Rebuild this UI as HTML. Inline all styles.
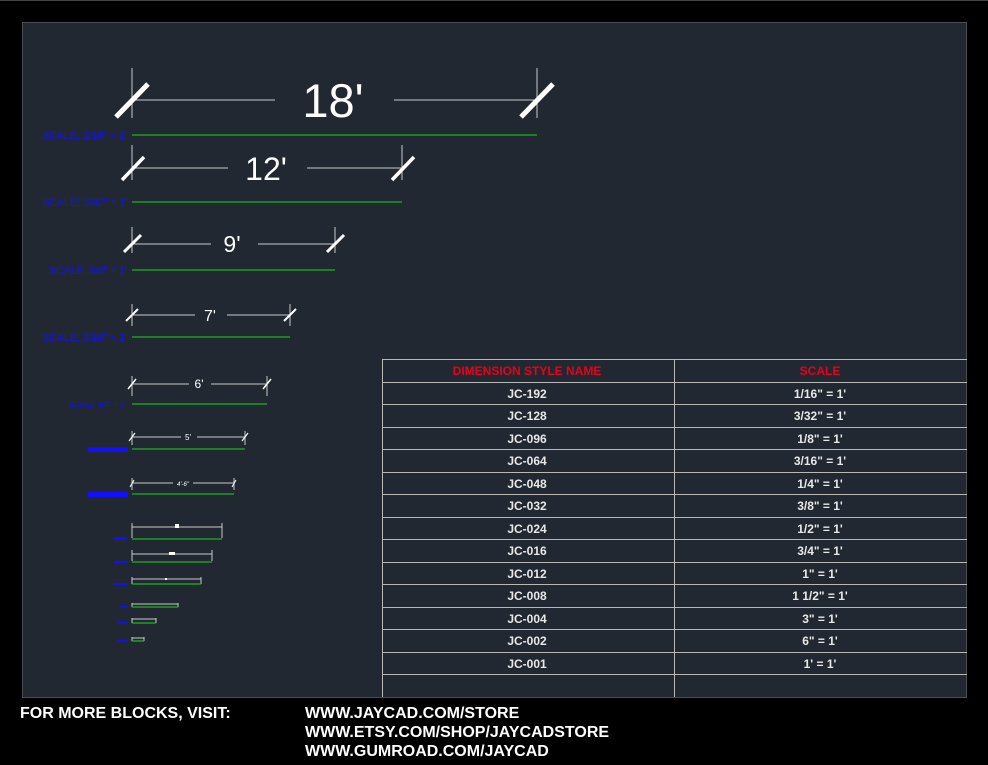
<!DOCTYPE html>
<html><head><meta charset="utf-8"><style>
html,body{margin:0;padding:0;background:#000;}
svg{display:block;}
</style></head><body>
<svg width="988" height="765" viewBox="0 0 988 765" xmlns="http://www.w3.org/2000/svg" font-family="Liberation Sans, sans-serif">
<rect width="988" height="765" fill="#000"/>
<line x1="0" y1="0.5" x2="988" y2="0.5" stroke="#444" stroke-width="1"/>
<rect x="22.5" y="22.5" width="944" height="675" fill="#222831" stroke="#4a4d52" stroke-width="1"/>

<g stroke="#c8c8c8" stroke-width="1" fill="none">
<!-- 18' -->
<line x1="132" y1="68" x2="132" y2="118"/><line x1="537" y1="68" x2="537" y2="118"/>
<line x1="132" y1="100" x2="275" y2="100"/><line x1="394" y1="100" x2="537" y2="100"/>
<!-- 12' -->
<line x1="132" y1="145" x2="132" y2="180"/><line x1="402" y1="145" x2="402" y2="180"/>
<line x1="132" y1="168" x2="228" y2="168"/><line x1="307" y1="168" x2="402" y2="168"/>
<!-- 9' -->
<line x1="132" y1="227" x2="132" y2="253"/><line x1="335" y1="227" x2="335" y2="253"/>
<line x1="132" y1="244" x2="211" y2="244"/><line x1="258" y1="244" x2="335" y2="244"/>
<!-- 7' -->
<line x1="132" y1="304" x2="132" y2="326"/><line x1="290" y1="304" x2="290" y2="326"/>
<line x1="132" y1="315" x2="195" y2="315"/><line x1="227" y1="315" x2="290" y2="315"/>
<!-- 6' -->
<line x1="132" y1="376" x2="132" y2="396"/><line x1="267" y1="376" x2="267" y2="396"/>
<line x1="132" y1="384" x2="189" y2="384"/><line x1="211" y1="384" x2="267" y2="384"/>
<!-- 5' -->
<line x1="132" y1="431" x2="132" y2="445"/><line x1="245" y1="431" x2="245" y2="445"/>
<line x1="132" y1="437" x2="181" y2="437"/><line x1="197" y1="437" x2="245" y2="437"/>
<!-- 4'-6" -->
<line x1="132" y1="478" x2="132" y2="490"/><line x1="234" y1="478" x2="234" y2="490"/>
<line x1="132" y1="483" x2="173" y2="483"/><line x1="193" y1="483" x2="234" y2="483"/>
<!-- small -->
<line x1="132" y1="523" x2="132" y2="538"/><line x1="222" y1="523" x2="222" y2="538"/>
<line x1="132" y1="527" x2="222" y2="527"/>
<line x1="132" y1="550" x2="132" y2="561"/><line x1="212" y1="550" x2="212" y2="561"/>
<line x1="132" y1="554" x2="212" y2="554"/>
<line x1="132" y1="577" x2="132" y2="584"/><line x1="201" y1="577" x2="201" y2="584"/>
<line x1="132" y1="579" x2="201" y2="579"/>
<line x1="132" y1="603" x2="132" y2="607"/><line x1="178" y1="603" x2="178" y2="607"/>
<line x1="132" y1="604" x2="178" y2="604"/>
<line x1="132" y1="618" x2="132" y2="623"/><line x1="156" y1="618" x2="156" y2="623"/>
<line x1="132" y1="619" x2="156" y2="619"/>
<line x1="132" y1="637" x2="132" y2="641"/><line x1="144" y1="637" x2="144" y2="641"/>
<line x1="132" y1="638" x2="144" y2="638"/>
</g>

<g stroke="#fff" stroke-linecap="butt">
<line x1="116" y1="117" x2="148" y2="84" stroke-width="5"/><line x1="521" y1="117" x2="553" y2="84" stroke-width="5"/>
<line x1="122" y1="180" x2="144" y2="157" stroke-width="3.5"/><line x1="392" y1="180" x2="414" y2="157" stroke-width="3.5"/>
<line x1="124" y1="252" x2="141" y2="235" stroke-width="3"/><line x1="327" y1="252" x2="344" y2="235" stroke-width="3"/>
<line x1="126" y1="321" x2="138" y2="309" stroke-width="2"/><line x1="284" y1="321" x2="296" y2="309" stroke-width="2"/>
<line x1="128" y1="389" x2="136" y2="379" stroke-width="1.5"/><line x1="263" y1="389" x2="271" y2="379" stroke-width="1.5"/>
<line x1="129" y1="441" x2="135" y2="433" stroke-width="1.2"/><line x1="242" y1="441" x2="248" y2="433" stroke-width="1.2"/>
<line x1="130" y1="487" x2="134" y2="480" stroke-width="1"/><line x1="232" y1="487" x2="236" y2="480" stroke-width="1"/>
</g>
<g fill="#fff">
<rect x="175" y="524" width="4" height="4"/><rect x="169" y="552" width="6" height="3"/><rect x="165" y="578" width="2" height="2"/>
</g>

<g fill="#fff" text-anchor="middle">
<text x="333" y="117" font-size="47">18'</text>
<text x="266" y="180" font-size="32">12'</text>
<text x="232" y="252" font-size="23">9'</text>
<text x="210" y="321" font-size="16">7'</text>
<text x="199" y="388" font-size="12">6'</text>
<text x="188" y="440" font-size="8">5'</text>
<text x="183" y="486" font-size="6" font-style="italic">4'-6"</text>
</g>

<g stroke="#1db41d" stroke-width="1.3">
<line x1="132" y1="135" x2="537" y2="135"/>
<line x1="132" y1="202" x2="402" y2="202"/>
<line x1="132" y1="270" x2="335" y2="270"/>
<line x1="132" y1="337" x2="290" y2="337"/>
<line x1="132" y1="404" x2="267" y2="404"/>
<line x1="132" y1="449" x2="245" y2="449"/>
<line x1="132" y1="494" x2="234" y2="494"/>
<line x1="132" y1="539" x2="222" y2="539"/>
<line x1="132" y1="562" x2="212" y2="562"/>
<line x1="132" y1="584" x2="201" y2="584"/>
<line x1="132" y1="607" x2="178" y2="607"/>
<line x1="132" y1="623" x2="156" y2="623"/>
<line x1="132" y1="641" x2="144" y2="641"/>
</g>

<g fill="#1010ff" font-size="11">
<text x="42" y="139" textLength="85">SCALE: 1/16" = 1'</text>
<text x="42" y="206" textLength="85">SCALE: 3/32" = 1'</text>
<text x="49" y="274" textLength="78">SCALE: 1/8" = 1'</text>
<text x="42" y="341" textLength="85">SCALE: 3/16" = 1'</text>
<text x="69" y="407" font-size="8" textLength="56">SCALE: 1/4" = 1'</text>
</g>
<g fill="#1010ff">
<rect x="88" y="447" width="40" height="5"/>
<rect x="88" y="492" width="40" height="5"/>
<rect x="113" y="537" width="14" height="3"/>
<rect x="114" y="561" width="13" height="2"/>
<rect x="113" y="583" width="14" height="2"/>
<rect x="119" y="606" width="8" height="1.5"/>
<rect x="118" y="622" width="9" height="1.5"/>
<rect x="118" y="640" width="9" height="1.5"/>
</g>

<!-- table -->
<g stroke="#b8b8b8" stroke-width="1">
<line x1="382" y1="359.5" x2="967" y2="359.5"/>
<line x1="382.5" y1="359" x2="382.5" y2="697"/>
<line x1="674.5" y1="359" x2="674.5" y2="697"/>
<line x1="382" y1="382.5" x2="967" y2="382.5"/>
<line x1="382" y1="404.5" x2="967" y2="404.5"/>
<line x1="382" y1="427.5" x2="967" y2="427.5"/>
<line x1="382" y1="449.5" x2="967" y2="449.5"/>
<line x1="382" y1="472.5" x2="967" y2="472.5"/>
<line x1="382" y1="494.5" x2="967" y2="494.5"/>
<line x1="382" y1="517.5" x2="967" y2="517.5"/>
<line x1="382" y1="539.5" x2="967" y2="539.5"/>
<line x1="382" y1="562.5" x2="967" y2="562.5"/>
<line x1="382" y1="584.5" x2="967" y2="584.5"/>
<line x1="382" y1="607.5" x2="967" y2="607.5"/>
<line x1="382" y1="629.5" x2="967" y2="629.5"/>
<line x1="382" y1="652.5" x2="967" y2="652.5"/>
<line x1="382" y1="674.5" x2="967" y2="674.5"/>
</g>
<g font-size="12" font-weight="bold" text-anchor="middle" fill="#e8e8e8">
<text x="527" y="375" fill="#e8001c">DIMENSION STYLE NAME</text>
<text x="820" y="375" fill="#e8001c">SCALE</text>
<text x="527" y="398">JC-192</text><text x="820" y="398">1/16"  = 1'</text>
<text x="527" y="420">JC-128</text><text x="820" y="420">3/32"  = 1'</text>
<text x="527" y="443">JC-096</text><text x="820" y="443">1/8"  = 1'</text>
<text x="527" y="465">JC-064</text><text x="820" y="465">3/16"  = 1'</text>
<text x="527" y="488">JC-048</text><text x="820" y="488">1/4"  = 1'</text>
<text x="527" y="510">JC-032</text><text x="820" y="510">3/8"  = 1'</text>
<text x="527" y="533">JC-024</text><text x="820" y="533">1/2"  = 1'</text>
<text x="527" y="555">JC-016</text><text x="820" y="555">3/4"  = 1'</text>
<text x="527" y="578">JC-012</text><text x="820" y="578">1"  = 1'</text>
<text x="527" y="600">JC-008</text><text x="820" y="600">1 1/2"  = 1'</text>
<text x="527" y="623">JC-004</text><text x="820" y="623">3"  = 1'</text>
<text x="527" y="645">JC-002</text><text x="820" y="645">6"  = 1'</text>
<text x="527" y="668">JC-001</text><text x="820" y="668">1' = 1'</text>
</g>

<g fill="#fff" font-size="16" font-weight="bold">
<text x="20" y="718">FOR MORE BLOCKS, VISIT:</text>
<text x="305" y="718">WWW.JAYCAD.COM/STORE</text>
<text x="305" y="737">WWW.ETSY.COM/SHOP/JAYCADSTORE</text>
<text x="305" y="756">WWW.GUMROAD.COM/JAYCAD</text>
</g>
</svg>
</body></html>
